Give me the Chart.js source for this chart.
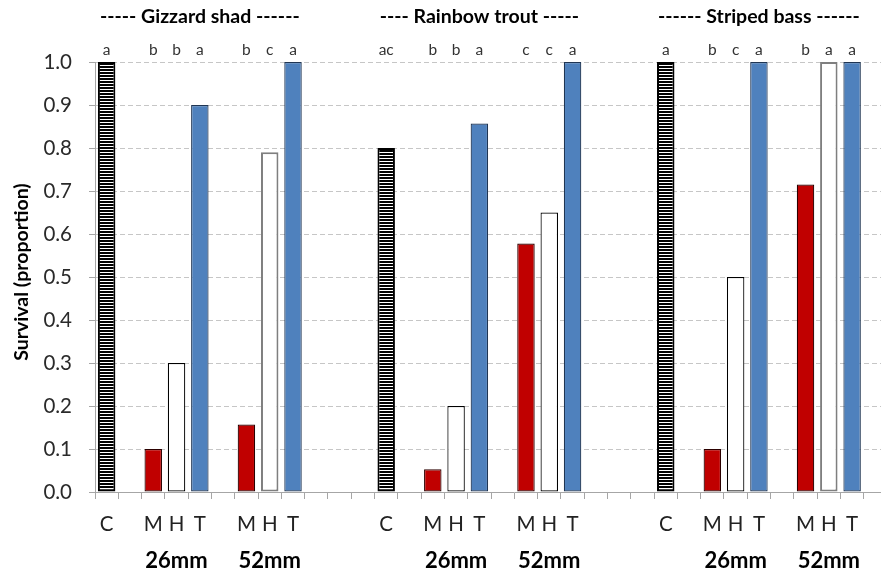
<!DOCTYPE html>
<html>
<head>
<meta charset="utf-8">
<script src="https://cdn.jsdelivr.net/npm/chart.js@4"></script>
<style>
  html, body { margin: 0; padding: 0; background: #fff; overflow: hidden; }
  #wrap { width: 881px; height: 573px; overflow: hidden; }
  canvas { display: block; }
</style>
</head>
<body>
<div id="wrap"><canvas id="c" width="935" height="573"></canvas></div>
<script>
// ---- data ----
const speciesTitles = ['----- Gizzard shad ------', '---- Rainbow trout -----', '------ Striped bass ------'];
const treatments = ['C', 'M', 'H', 'T', 'M', 'H', 'T'];
const sizeLabels = ['26mm', '52mm'];
const gizzard = [1.0, 0.10, 0.30, 0.90, 0.157, 0.79, 1.0];
const trout   = [0.80, 0.053, 0.20, 0.857, 0.578, 0.65, 1.0];
const striped = [1.0, 0.10, 0.50, 1.0, 0.715, 1.0, 1.0];
const gizzardLetters = ['a', 'b', 'b', 'a', 'b', 'c', 'a'];
const troutLetters   = ['ac', 'b', 'b', 'a', 'c', 'c', 'a'];
const stripedLetters = ['a', 'b', 'c', 'a', 'b', 'a', 'a'];
const yTicks = [0, 0.1, 0.2, 0.3, 0.4, 0.5, 0.6, 0.7, 0.8, 0.9, 1.0];

// ---- category layout (each species uses 12 slots) ----
const slotsPerGroup = 12;
const slotMap = [0, 2, 3, 4, 6, 7, 8];
const groups = [gizzard, trout, striped];
const groupLetters = [gizzardLetters, troutLetters, stripedLetters];
const nSlots = slotsPerGroup * groups.length;

const labels = new Array(nSlots).fill('');
const values = new Array(nSlots).fill(null);
const letters = new Array(nSlots).fill('');
const kinds = new Array(nSlots).fill('');
const sizeIdx = new Array(nSlots).fill(-1);
groups.forEach((g, gi) => {
  slotMap.forEach((s, k) => {
    const i = gi * slotsPerGroup + s;
    labels[i] = treatments[k];
    values[i] = g[k];
    letters[i] = groupLetters[gi][k];
    kinds[i] = treatments[k];
    sizeIdx[i] = k === 0 ? -1 : (k <= 3 ? 0 : 1);
  });
});

// stripe pattern for control bars
const pc = document.createElement('canvas');
pc.width = 4; pc.height = 3;
const pctx = pc.getContext('2d');
pctx.fillStyle = '#fff'; pctx.fillRect(0, 0, 4, 3);
pctx.fillStyle = '#000'; pctx.fillRect(0, 0, 4, 2);
const stripe = pctx.createPattern(pc, 'repeat');

const grayH = i => kinds[i] === 'H' && sizeIdx[i] === 1 && (i < 12 || i >= 24);
const bg = kinds.map(k => k === 'C' ? stripe : k === 'M' ? '#C00000' : k === 'H' ? '#FFFFFF' : k === 'T' ? '#4F81BD' : 'transparent');
const bc = kinds.map((k, i) => {
  if (k === 'C') return '#000000';
  if (k === 'M') return '#2b0000';
  if (k === 'H') return grayH(i) ? '#7f7f7f' : '#000000';
  if (k === 'T') return '#1f3553';
  return 'transparent';
});
const bw = kinds.map((k, i) => k === 'C' ? 2 : grayH(i) ? 2 : 1.2);

const FONT = 'Lato, "Noto Sans", sans-serif';

const overlay = {
  id: 'overlay',
  afterDraw(chart) {
    const ctx = chart.ctx;
    const meta = chart.getDatasetMeta(0);
    const xs = chart.scales.x;
    const ys = chart.scales.y;
    ctx.save();
    // significance letters
    ctx.fillStyle = '#333';
    ctx.font = '15.5px ' + FONT;
    ctx.textAlign = 'center';
    ctx.textBaseline = 'alphabetic';
    const top = ys.getPixelForValue(1.0);
    letters.forEach((l, i) => {
      if (!l) return;
      ctx.fillText(l, meta.data[i].x, top - 7);
    });
    // species titles
    ctx.fillStyle = '#000';
    ctx.font = 'bold 19.5px ' + FONT;
    speciesTitles.forEach((t, gi) => {
      ctx.fillText(t, xs.getPixelForValue(gi * slotsPerGroup + 4), 23);
    });
    // size labels
    ctx.font = 'bold 22px ' + FONT;
    groups.forEach((g, gi) => {
      ctx.fillText(sizeLabels[0], xs.getPixelForValue(gi * slotsPerGroup + 3), 568);
      ctx.fillText(sizeLabels[1], xs.getPixelForValue(gi * slotsPerGroup + 7), 568);
    });
    // y title
    ctx.translate(22, 272);
    ctx.rotate(-Math.PI / 2);
    ctx.textBaseline = 'middle';
    ctx.font = 'bold 19.5px ' + FONT;
    ctx.fillText('Survival (proportion)', 0, 0);
    ctx.restore();
  }
};

new Chart(document.getElementById('c'), {
  type: 'bar',
  data: {
    labels: labels,
    datasets: [{
      data: values,
      backgroundColor: bg,
      borderColor: bc,
      borderWidth: bw,
      borderSkipped: false,
      categoryPercentage: 1.0,
      barPercentage: 0.75
    }]
  },
  options: {
    responsive: false,
    animation: false,
    devicePixelRatio: 1,
    layout: { padding: { left: 0, top: 62, right: 0, bottom: 0 } },
    plugins: { legend: { display: false }, tooltip: { enabled: false } },
    scales: {
      x: {
        offset: true,
        afterFit(s) { s.height = 81; },
        grid: { drawOnChartArea: false, drawTicks: true, tickLength: 7, tickColor: '#A6A6A6', offset: true },
        border: { display: true, color: '#A6A6A6', width: 1 },
        ticks: { autoSkip: false, maxRotation: 0, padding: 13, color: '#222', font: { family: FONT, size: 20.5 } }
      },
      y: {
        min: 0, max: 1,
        afterFit(s) { s.width = 95; },
        afterBuildTicks(s) { s.ticks = yTicks.map(v => ({ value: v })); },
        grid: {
          color: c => (c.tick && c.tick.value === 0) ? 'rgba(0,0,0,0)' : '#C6C6C6',
          tickColor: '#A6A6A6', tickLength: 6, tickBorderDash: []
        },
        border: { display: true, color: '#A6A6A6', width: 1, dash: [5, 3] },
        ticks: { padding: 17, color: '#2a2a2a', font: { family: FONT, size: 20.5 }, callback: v => Number(v).toFixed(1) }
      }
    }
  },
  plugins: [overlay]
});
</script>
</body>
</html>
